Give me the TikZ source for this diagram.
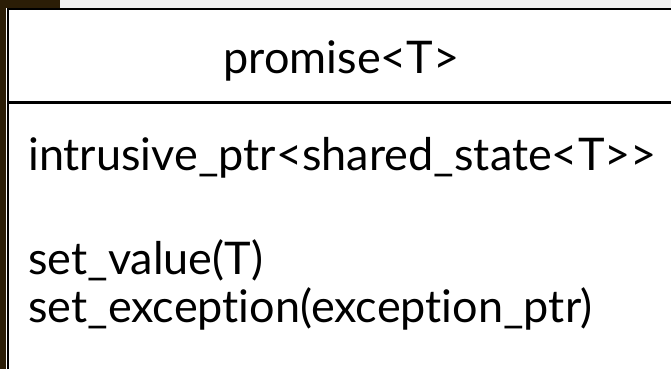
\documentclass[tikz,border=0pt]{standalone}
\usepackage{fontspec}
\newfontfamily\classfont[Ligatures=NoCommon]{Lato}
\usepackage{tikz}
\usetikzlibrary{positioning}
\definecolor{slidebrown}{HTML}{2B1D06}
\definecolor{slidegray}{HTML}{F2F2F2}

\begin{document}
\begin{tikzpicture}[x=1pt, y=-1pt, every node/.style={font=\classfont\fontsize{45}{54}\selectfont, inner sep=0pt}]

\useasboundingbox (0,0) rectangle (671,369);

% slide background
\fill[slidebrown] (0,0) rectangle (60,8);
\fill[slidebrown] (0,0) rectangle (6,369);
\fill[slidegray] (60,0) rectangle (671,8);
\fill[white] (6,8) rectangle (671,369);

% class box
\draw[line width=2pt] (671,9) -- (8,9) -- (8,369);
\draw[line width=3pt] (8,102.5) -- (671,102.5);

% name
\node[anchor=base] (name) at (341.5,73) {promise<T>};

% attribute
\node[anchor=base west] (attr) at (28,170) {intrusive\_ptr<shared\_state<T>>};

% operations
\node[anchor=base west] (setval) at (28,274) {set\_value(T)};
\node[anchor=base west] (setexc) at (28,322) {set\_exception(exception\_ptr)};

\end{tikzpicture}
\end{document}
